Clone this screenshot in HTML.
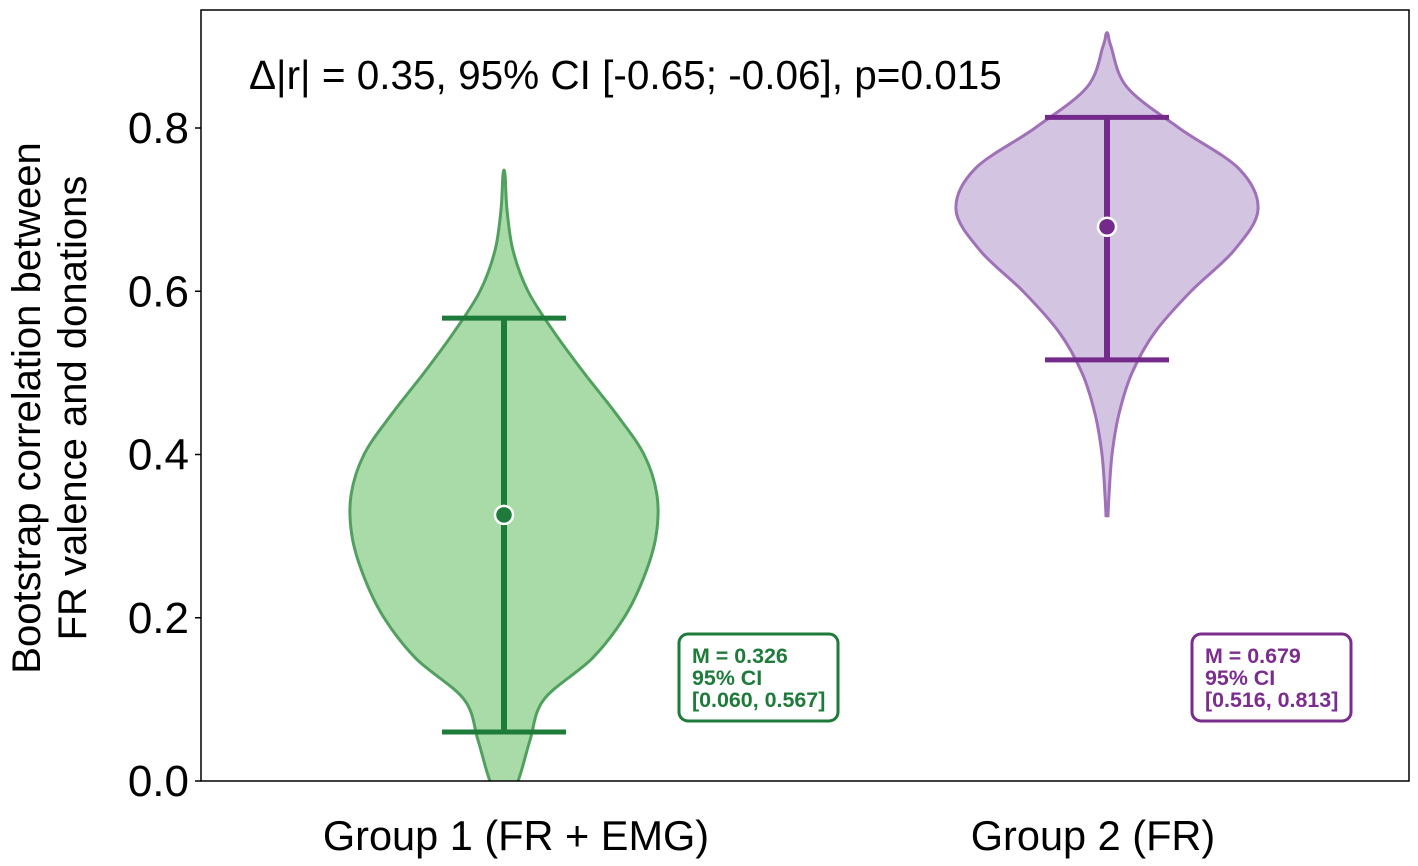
<!DOCTYPE html>
<html><head><meta charset="utf-8"><style>
body{margin:0;background:#fff;}
svg{display:block;font-family:"Liberation Sans",Arial,sans-serif;}
</style></head><body>
<svg id="chart" width="1418" height="866" viewBox="0 0 1418 866" xmlns="http://www.w3.org/2000/svg">
<rect x="0" y="0" width="1418" height="866" fill="#fff"/>
<defs><clipPath id="clip"><rect x="201" y="10" width="1208" height="771"/></clipPath></defs>
<g id="violins" clip-path="url(#clip)"></g>
<g id="bars"></g>
<rect x="201" y="10" width="1208" height="771" fill="none" stroke="#000" stroke-width="1.5"/>
<g id="yticks"></g>
<g id="xticks"></g>
<text transform="translate(40,408) rotate(-90)" font-size="40" text-anchor="middle">Bootstrap correlation between</text>
<text transform="translate(86,408) rotate(-90)" font-size="40" text-anchor="middle">FR valence and donations</text>
<text x="249" y="89" font-size="40.5">Δ|r| = 0.35, 95% CI [-0.65; -0.06], p=0.015</text>
<g>
<rect x="679" y="634" width="159" height="87" rx="9" fill="#fff" stroke="#1e7b3a" stroke-width="3"/>
<text x="692" y="663" font-size="21" font-weight="bold" fill="#1e7b3a" transform="translate(692,0) scale(1.02,1) translate(-692,0)">M = 0.326</text>
<text x="692" y="685" font-size="21" font-weight="bold" fill="#1e7b3a" transform="translate(692,0) scale(1.02,1) translate(-692,0)">95% CI</text>
<text x="692" y="707" font-size="21" font-weight="bold" fill="#1e7b3a" transform="translate(692,0) scale(1.02,1) translate(-692,0)">[0.060, 0.567]</text>
</g>
<g>
<rect x="1192" y="634" width="159" height="87" rx="9" fill="#fff" stroke="#7b2d8e" stroke-width="3"/>
<text x="1205" y="663" font-size="21" font-weight="bold" fill="#7b2d8e" transform="translate(1205,0) scale(1.02,1) translate(-1205,0)">M = 0.679</text>
<text x="1205" y="685" font-size="21" font-weight="bold" fill="#7b2d8e" transform="translate(1205,0) scale(1.02,1) translate(-1205,0)">95% CI</text>
<text x="1205" y="707" font-size="21" font-weight="bold" fill="#7b2d8e" transform="translate(1205,0) scale(1.02,1) translate(-1205,0)">[0.516, 0.813]</text>
</g>
</svg>
<script>
const categories=["Group 1 (FR + EMG)","Group 2 (FR)"];
const means=[0.326,0.679];
const ciLow=[0.060,0.516];
const ciHigh=[0.567,0.813];
const yTicks=[0.0,0.2,0.4,0.6,0.8];
const g1Vals=[-0.03,0,0.05,0.1,0.15,0.2,0.25,0.3,0.35,0.4,0.45,0.5,0.55,0.6,0.65,0.7,0.743];
const g1Dens=[0,14,26,40,88,120,140,152,153,140,112,80,50,24,9,3,1];
const g2Vals=[0.325,0.35,0.4,0.45,0.5,0.55,0.6,0.65,0.7,0.75,0.8,0.85,0.9,0.915];
const g2Dens=[1,2,5,12,25,48,84,127,151,132,72,20,4,1];
const NS="http://www.w3.org/2000/svg";
const Y=v=>781-v/0.8*653;
const X=i=>504+i*603;
const labelShift=[12,-14];
const styles=[{fill:"#a8dba8",edge:"#52a060",dark:"#1e7b3a"},{fill:"#d3c5e1",edge:"#a070b8",dark:"#742a8a"}];
function mk(tag,attrs,parent){const e=document.createElementNS(NS,tag);for(const k in attrs)e.setAttribute(k,attrs[k]);parent.appendChild(e);return e;}
function smoothPath(pts){let d="M"+pts[0][0]+","+pts[0][1];for(let i=1;i<pts.length;i++){const p0=pts[i-2]||pts[i-1],p1=pts[i-1],p2=pts[i],p3=pts[i+1]||p2;const c1=[p1[0]+(p2[0]-p0[0])/6,p1[1]+(p2[1]-p0[1])/6],c2=[p2[0]-(p3[0]-p1[0])/6,p2[1]-(p3[1]-p1[1])/6];d+=" C"+c1+" "+c2+" "+p2;}return d;}
const vg=document.getElementById("violins");
[[g1Vals,g1Dens],[g2Vals,g2Dens]].forEach(([vals,dens],i)=>{
 const cx=X(i);const right=vals.map((v,k)=>[cx+dens[k],Y(v)]);const left=vals.map((v,k)=>[cx-dens[k],Y(v)]).reverse();
 const pts=right.concat(left);
 const p=mk("path",{d:smoothPath(pts)+"Z",fill:styles[i].fill,stroke:styles[i].edge,"stroke-width":3},vg);
 
 
});
const bg=document.getElementById("bars");
categories.forEach((c,i)=>{
 const cx=X(i),col=styles[i].dark;
 const l=mk("line",{x1:cx,x2:cx,y1:Y(ciLow[i]),y2:Y(ciHigh[i]),stroke:col,"stroke-width":6},bg);
 
 
 [ciLow[i],ciHigh[i]].forEach((v,j)=>{const cap=mk("line",{x1:cx-62,x2:cx+62,y1:Y(v),y2:Y(v),stroke:col,"stroke-width":5},bg);
 
 });
 const m=mk("circle",{cx:cx,cy:Y(means[i]),r:9,fill:col,stroke:"#fff","stroke-width":2.5},bg);
 
 
});
const yt=document.getElementById("yticks");
yTicks.forEach(v=>{const y=Y(v);
 const t=mk("line",{x1:195,x2:201,y1:y,y2:y,stroke:"#000","stroke-width":1.5},yt);
 
 
 const tx=mk("text",{x:189,y:y+15,"font-size":44,"text-anchor":"end"},yt);tx.textContent=v.toFixed(1);
 
 
});
const xt=document.getElementById("xticks");
categories.forEach((c,i)=>{
 const tx=mk("text",{x:X(i)+labelShift[i],y:850,"font-size":41.5,"text-anchor":"middle"},xt);tx.textContent=c;
 
 
});
</script>
</body></html>
